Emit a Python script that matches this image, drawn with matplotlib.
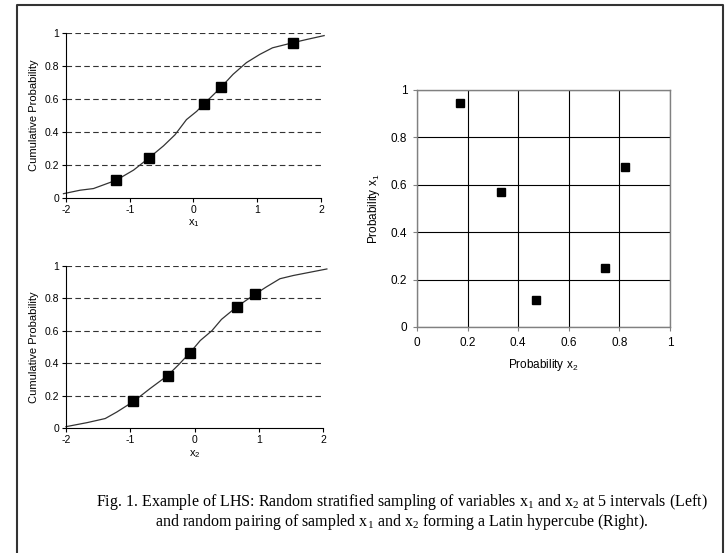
import matplotlib
matplotlib.use("Agg")
import matplotlib.pyplot as plt
from matplotlib.lines import Line2D

plt.rcParams['font.family'] = ['Liberation Sans', 'DejaVu Sans']
plt.rcParams['mathtext.default'] = 'regular'

# curve of x1
curve1_x = [-2.04, -1.78, -1.57, -1.21, -0.94, -0.70, -0.47, -0.29, -0.11, 0.05, 0.16,
            0.43, 0.62, 0.83, 1.04, 1.24, 1.56, 1.77, 2.05]
curve1_y = [0.026, 0.047, 0.057, 0.108, 0.169, 0.242, 0.316, 0.383, 0.475, 0.525, 0.568,
            0.670, 0.749, 0.820, 0.870, 0.910, 0.941, 0.960, 0.984]
samples1_x = [-1.21, -0.70, 0.16, 0.43, 1.56]
samples1_p = [0.108, 0.242, 0.568, 0.670, 0.941]

# curve of x2
curve2_x = [-2.0, -1.67, -1.39, -1.21, -0.95, -0.69, -0.42, -0.25, -0.07, 0.09, 0.27,
            0.42, 0.66, 0.94, 1.12, 1.33, 1.54, 1.80, 2.06]
curve2_y = [0.010, 0.035, 0.060, 0.100, 0.165, 0.245, 0.324, 0.390, 0.465, 0.540, 0.600,
            0.670, 0.748, 0.824, 0.870, 0.920, 0.940, 0.960, 0.980]
samples2_x = [-0.95, -0.42, -0.07, 0.66, 0.94]
samples2_p = [0.168, 0.324, 0.465, 0.748, 0.824]

# random pairing (probability x2, probability x1)
pair_x2 = [0.171, 0.332, 0.470, 0.745, 0.822]
pair_x1 = [0.944, 0.569, 0.114, 0.249, 0.673]

cdf_ticks_x = [-2, -1, 0, 1, 2]
cdf_ticks_y = [0, 0.2, 0.4, 0.6, 0.8, 1]
cdf_ticklabels_y = ['0', '0.2', '0.4', '0.6', '0.8', '1']
prob_ticks = [0, 0.2, 0.4, 0.6, 0.8, 1]
prob_ticklabels = ['0', '0.2', '0.4', '0.6', '0.8', '1']

fig = plt.figure(figsize=(7.27, 5.53), dpi=100)


def cdf_panel(rect, cx, cy, sx, sp, xlabel):
    ax = fig.add_axes(rect)
    for yv in cdf_ticks_y[1:]:
        ax.axhline(yv, color='#333333', lw=0.8, dashes=(5, 3), zorder=1)
    ax.plot(cx, cy, color='#333333', lw=0.9, clip_on=False, zorder=2)
    ax.plot(sx, sp, 's', color='black', ms=7, zorder=3, clip_on=False)
    ax.set_xlim(-2, 2)
    ax.set_ylim(0, 1)
    ax.set_xticks(cdf_ticks_x)
    ax.set_xticklabels(['-2', '-1', '0', '1', '2'])
    ax.set_yticks(cdf_ticks_y)
    ax.set_yticklabels(cdf_ticklabels_y)
    ax.tick_params(labelsize=7.5, length=3, width=0.8, pad=2)
    for s in ['top', 'right']:
        ax.spines[s].set_visible(False)
    for s in ['left', 'bottom']:
        ax.spines[s].set_linewidth(0.8)
    ax.set_ylabel('Cumulative Probability', fontsize=8, labelpad=4)
    ax.set_xlabel(xlabel, fontsize=8, labelpad=2)
    return ax


cdf_panel([0.0908, 0.642, 0.3507, 0.2984], curve1_x, curve1_y, samples1_x, samples1_p, 'x$_1$')
cdf_panel([0.0908, 0.2255, 0.3535, 0.294], curve2_x, curve2_y, samples2_x, samples2_p, 'x$_2$')

ax3 = fig.add_axes([0.5736, 0.4087, 0.348, 0.4286])
ax3.plot(pair_x2, pair_x1, 's', color='black', ms=5.5, zorder=3)
ax3.set_xlim(0, 1)
ax3.set_ylim(0, 1)
ax3.set_xticks(prob_ticks)
ax3.set_xticklabels(prob_ticklabels)
ax3.set_yticks(prob_ticks)
ax3.set_yticklabels(prob_ticklabels)
ax3.grid(True, color='black', lw=0.8)
ax3.set_axisbelow(True)
for s in ax3.spines.values():
    s.set_color('#808080')
    s.set_linewidth(1.0)
ax3.tick_params(labelsize=8.5, length=3, width=0.8, color='#808080', pad=4)
ax3.set_xlabel('Probability x$_2$', fontsize=8.5, labelpad=6)
ax3.set_ylabel('Probability x$_1$', fontsize=8.5, labelpad=6)

# frame around the figure (no bottom edge)
frame = Line2D([17 / 100, 17 / 100, 723 / 100, 723 / 100], [0, 5.48, 5.48, 0],
               transform=fig.dpi_scale_trans, color='#333333', lw=1.5)
fig.add_artist(frame)

caption = ('Fig. 1. Example of LHS: Random stratified sampling of variables x$_1$ and x$_2$ at 5 intervals (Left)\n'
           'and random pairing of sampled x$_1$ and x$_2$ forming a Latin hypercube (Right).')
fig.text(0.553, 1 - 512 / 553, caption, ha='center', va='center', fontsize=11.5,
         linespacing=1.05, multialignment='center',
         family=['Liberation Serif', 'DejaVu Serif'])

fig.savefig('out.png', dpi=100)
